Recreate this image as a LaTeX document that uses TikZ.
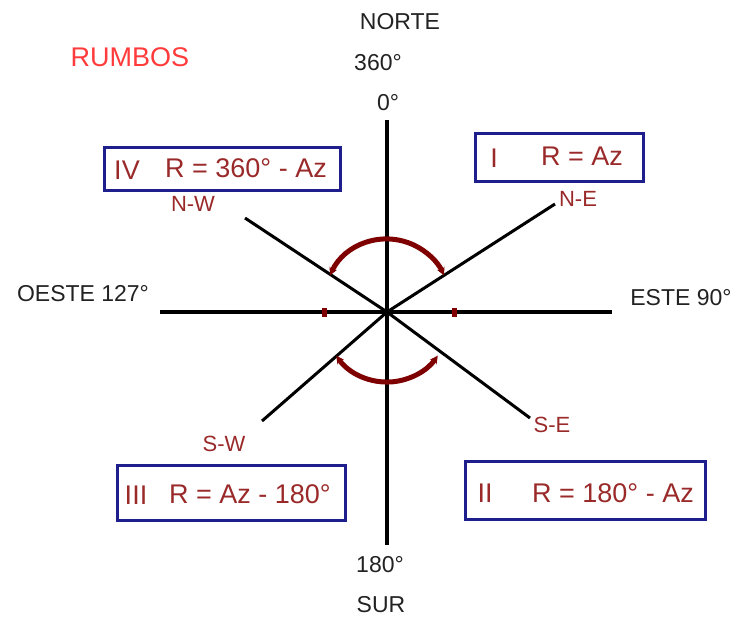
\documentclass[tikz,border=0pt]{standalone}
\usepackage{fontspec}
\setmainfont{Liberation Sans}
\usetikzlibrary{arrows.meta}
\definecolor{axisred}{HTML}{7F0000}
\definecolor{lblred}{HTML}{9A2A2A}
\definecolor{boxblue}{HTML}{1E1E8C}
\definecolor{titlered}{HTML}{FF3B3B}
\definecolor{lblgray}{HTML}{222222}
\begin{document}
\begin{tikzpicture}[x=1pt,y=-1pt,
 axis/.style={line width=4pt, black},
 diag/.style={line width=3pt, black},
 rumbo/.style={draw=boxblue, line width=3pt, inner sep=0pt},
 dirlbl/.style={font=\fontsize{23}{23}\selectfont, text=lblgray, inner sep=0pt},
 redlbl/.style={font=\fontsize{22}{22}\selectfont, text=lblred, inner sep=0pt},
 boxtxt/.style={font=\fontsize{27}{27}\selectfont, text=lblred, inner sep=0pt},
 turn/.style={draw=axisred, line width=5pt, {Stealth[length=8pt,width=8pt]}-{Stealth[length=8pt,width=8pt]}},
 tickmark/.style={fill=axisred, minimum width=5pt, minimum height=9pt, inner sep=0pt}
]
\useasboundingbox (0,0) rectangle (735,619);
% center and ends
\coordinate (O) at (387,312);
\coordinate (N) at (387,120);
\coordinate (S) at (387,545);
\coordinate (W) at (160,312);
\coordinate (E) at (612,312);
\coordinate (NWend) at (245,218);
\coordinate (NEend) at (555,204);
\coordinate (SWend) at (262,421);
\coordinate (SEend) at (530,418);
% axes
\draw[axis] (N) -- (S);
\draw[axis] (W) -- (E);
\draw[diag] (O) -- (NWend);
\draw[diag] (O) -- (NEend);
\draw[diag] (O) -- (SWend);
\draw[diag] (O) -- (SEend);
% ticks
\node[tickmark] (tW) at (324,312) {};
\node[tickmark] (tE) at (454,312) {};
% arcs
\draw[turn] (329.9,275.4) arc[start angle=-155, end angle=-25, radius=63];
\draw[turn] (336.2,355.6) arc[start angle=145, end angle=35, radius=62];
% direction labels
\node[font=\fontsize{27}{27}\selectfont, text=titlered, inner sep=0pt] (title) at (130,57) {RUMBOS};
\node[dirlbl] (norte) at (400,22) {NORTE};
\node[dirlbl] (n360) at (378,63) {360°};
\node[dirlbl] (n0) at (388,103) {0°};
\node[dirlbl] (oeste) at (83,294) {OESTE 127°};
\node[dirlbl] (este) at (681,298) {ESTE 90°};
\node[dirlbl] (s180) at (380,565) {180°};
\node[dirlbl] (sur) at (381,605) {SUR};
\node[redlbl] (lNW) at (193,204) {N-W};
\node[redlbl] (lNE) at (578,199) {N-E};
\node[redlbl] (lSW) at (224,444) {S-W};
\node[redlbl] (lSE) at (552,425) {S-E};
% boxes
\node[rumbo, minimum width=236pt, minimum height=43pt] (bIV) at (222,168.5) {};
\node[rumbo, minimum width=168pt, minimum height=48pt] (bI) at (559,157) {};
\node[rumbo, minimum width=228pt, minimum height=55pt] (bIII) at (231,492.5) {};
\node[rumbo, minimum width=240pt, minimum height=58pt] (bII) at (585,490) {};
\node[boxtxt] (qIV) at (127,170) {IV};
\node[boxtxt] (fIV) at (246,168) {R = 360° - Az};
\node[boxtxt] (qI) at (494,158) {I};
\node[boxtxt] (fI) at (582,156) {R = Az};
\node[boxtxt] (qIII) at (136,495) {III};
\node[boxtxt] (fIII) at (250,494) {R = Az - 180°};
\node[boxtxt] (qII) at (485,493) {II};
\node[boxtxt] (fII) at (613,493) {R = 180° - Az};
\end{tikzpicture}
\end{document}
